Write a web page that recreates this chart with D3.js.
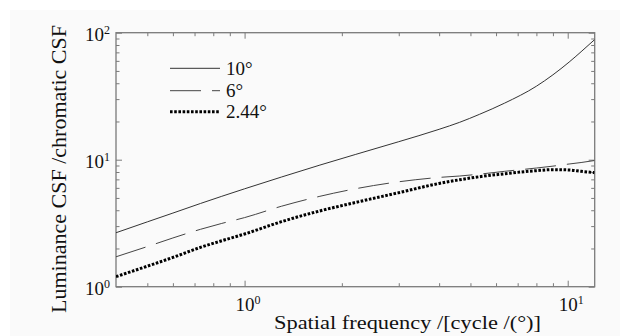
<!DOCTYPE html>
<html><head><meta charset="utf-8">
<script src="https://cdn.jsdelivr.net/npm/d3@7"></script>
<style>
body{margin:0;background:#fff}
svg{display:block}
</style>
</head><body><svg id="c" width="620" height="336"></svg>
<script>
// ---- data ----
const freq   = [0.4, 0.5, 0.6, 0.73, 0.85, 1.0, 1.3, 1.71, 2.2, 3.0, 4.0, 4.63, 5.34, 6.38, 8.0, 9.0, 10.1, 11.0, 12.1];
const deg10  = [2.66, 3.24, 3.8, 4.52, 5.15, 5.9, 7.3, 9.07, 10.98, 13.86, 17.35, 19.7, 22.8, 27.9, 37.9, 46.6, 58.7, 70.8, 88];
const deg6   = [1.72, 2.07, 2.42, 2.83, 3.15, 3.5, 4.3, 5.15, 5.9, 6.7, 7.25, 7.44, 7.7, 8.1, 8.6, 8.9, 9.25, 9.5, 9.85];
const deg244 = [1.2, 1.45, 1.7, 2.04, 2.3, 2.6, 3.25, 3.95, 4.6, 5.5, 6.5, 6.95, 7.35, 7.75, 8.2, 8.35, 8.3, 8.1, 7.9];
const seriesNames = ["10°", "6°", "2.44°"];
const xMajorTicks = [1, 10];
const xMinorTicks = [0.5, 0.6, 0.7, 0.8, 0.9, 2, 3, 4, 5, 6, 7, 8, 9];
const yMajorTicks = [1, 10, 100];
const yMinorTicks = [2, 3, 4, 5, 6, 7, 8, 9, 20, 30, 40, 50, 60, 70, 80, 90];
const xTitle = "Spatial frequency /[cycle /(°)]";
const yTitle = "Luminance CSF /chromatic CSF";

const FONT = "'Liberation Serif', 'Times New Roman', 'DejaVu Serif', serif";

// ---- layout ----
const svg = d3.select("#c").attr("font-family", FONT);
const L = 116, R = 594.7, T = 32.7, B = 286.7;
svg.append("rect").attr("x", 10).attr("y", 10).attr("width", 610).attr("height", 326).attr("fill", "#fafafa");

const x = d3.scaleLog().domain([0.4, 12.12]).range([L, R]);
const y = d3.scaleLog().domain([1, 100]).range([B, T]);

const axisColor = "#7a7a7a";
function styleAxis(g) {
  g.attr("font-family", FONT);
  g.select(".domain").remove();
  g.selectAll(".tick line").attr("stroke", axisColor).attr("stroke-width", 1);
}
function supLabels(g, anchor) {
  g.selectAll(".tick text").each(function(d) {
    const t = d3.select(this);
    t.text(null).attr("font-size", 19).attr("fill", "#111").attr("text-anchor", anchor)
      .style("font-family", FONT);
    t.append("tspan").text("10");
    t.append("tspan").attr("font-size", 12).attr("dy", -7).text(Math.round(Math.log10(d)));
  });
}

// bottom
svg.append("g").attr("transform", `translate(0,${B})`)
  .call(d3.axisBottom(x).tickValues(xMinorTicks).tickSize(-3.5).tickFormat(""))
  .call(styleAxis);
svg.append("g").attr("transform", `translate(0,${B})`)
  .call(d3.axisBottom(x).tickValues(xMajorTicks).tickSize(-6).tickPadding(11).tickFormat(d => d))
  .call(styleAxis).call(g => supLabels(g, "middle"))
  .call(g => g.selectAll(".tick text").attr("dx", 3));
// top
svg.append("g").attr("transform", `translate(0,${T})`)
  .call(d3.axisTop(x).tickValues(xMinorTicks).tickSize(-3.5).tickFormat(""))
  .call(styleAxis);
svg.append("g").attr("transform", `translate(0,${T})`)
  .call(d3.axisTop(x).tickValues(xMajorTicks).tickSize(-6).tickFormat(""))
  .call(styleAxis);
// left
svg.append("g").attr("transform", `translate(${L},0)`)
  .call(d3.axisLeft(y).tickValues(yMinorTicks).tickSize(-3.5).tickFormat(""))
  .call(styleAxis);
svg.append("g").attr("transform", `translate(${L},0)`)
  .call(d3.axisLeft(y).tickValues(yMajorTicks).tickSize(-6).tickPadding(6).tickFormat(d => d))
  .call(styleAxis).call(g => supLabels(g, "end"))
  .call(g => g.selectAll(".tick text").attr("dy", "0.4em"));
// right
svg.append("g").attr("transform", `translate(${R},0)`)
  .call(d3.axisRight(y).tickValues(yMinorTicks).tickSize(-3.5).tickFormat(""))
  .call(styleAxis);
svg.append("g").attr("transform", `translate(${R},0)`)
  .call(d3.axisRight(y).tickValues(yMajorTicks).tickSize(-6).tickFormat(""))
  .call(styleAxis);

// frame
svg.append("rect").attr("x", L).attr("y", T).attr("width", R - L).attr("height", B - T)
  .attr("fill", "none").attr("stroke", axisColor).attr("stroke-width", 1.3);

// ---- lines ----
const styles = [
  {data: deg10, stroke: "#333", width: 1, dash: null},
  {data: deg6, stroke: "#444", width: 1, dash: "31,11"},
  {data: deg244, stroke: "#000", width: 3, dash: "2.6,1.6"}
];
const line = d3.line().x(d => x(d[0])).y(d => y(d[1])).curve(d3.curveMonotoneX);
svg.append("clipPath").attr("id", "pc").append("rect")
  .attr("x", L).attr("y", T).attr("width", R - L).attr("height", B - T);
styles.forEach(s => {
  svg.append("path").datum(freq.map((f, i) => [f, s.data[i]]))
    .attr("d", line).attr("fill", "none").attr("stroke", s.stroke)
    .attr("stroke-width", s.width).attr("stroke-dasharray", s.dash)
    .attr("clip-path", "url(#pc)");
});

// ---- legend ----
const legY = [68.3, 90.7, 111.7];
styles.forEach((s, i) => {
  svg.append("line").attr("x1", 170).attr("x2", 220).attr("y1", legY[i]).attr("y2", legY[i])
    .attr("stroke", s.stroke).attr("stroke-width", s.width).attr("stroke-dasharray", s.dash);
  svg.append("text").attr("x", 226).attr("y", legY[i] + 6.5).attr("font-size", 19)
    .attr("fill", "#111").style("font-family", FONT).text(seriesNames[i]);
});

// ---- titles ----
svg.append("text").attr("x", 274).attr("y", 329).attr("font-size", 19).attr("fill", "#111")
  .style("font-family", FONT)
  .attr("textLength", 267).attr("lengthAdjust", "spacingAndGlyphs").text(xTitle);
svg.append("text").attr("transform", "translate(66,313) rotate(-90)").attr("font-size", 21)
  .attr("fill", "#111").style("font-family", FONT)
  .attr("textLength", 288).attr("lengthAdjust", "spacingAndGlyphs").text(yTitle);
</script>
</body></html>
